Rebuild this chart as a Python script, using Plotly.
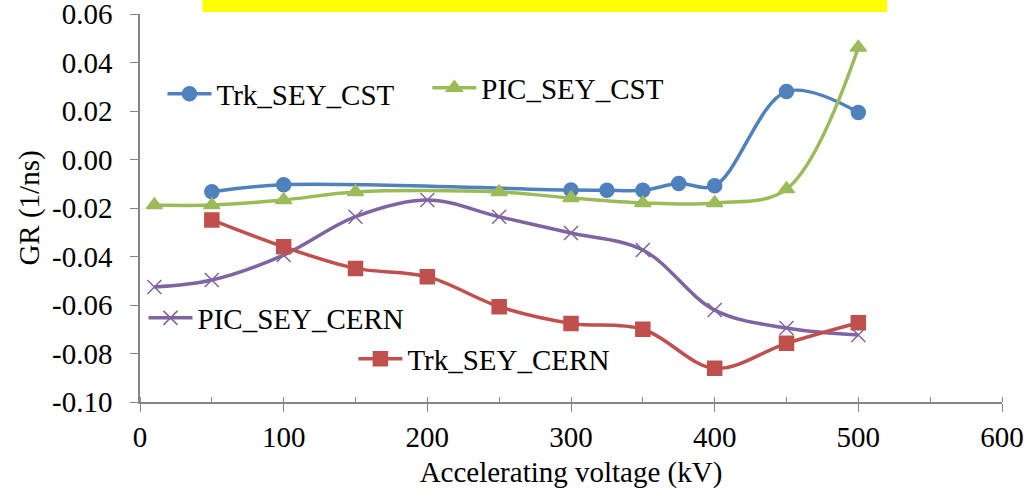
import plotly.graph_objects as go

# Data
x_trk_cst = [50, 100, 300, 325, 350, 375, 400, 450, 500]
y_trk_cst = [-0.0133, -0.0104, -0.0126, -0.0127, -0.0127, -0.0099, -0.0108, 0.0280, 0.0194]

x_pic_cst = [10, 50, 100, 150, 250, 300, 350, 400, 450, 500]
y_pic_cst = [-0.0188, -0.0188, -0.0167, -0.0134, -0.0134, -0.0159, -0.0179, -0.0179, -0.0122, 0.0462]

x_pic_cern = [10, 50, 100, 150, 200, 250, 300, 350, 400, 450, 500]
y_pic_cern = [-0.0526, -0.0497, -0.0394, -0.0236, -0.0167, -0.0236, -0.0303, -0.0373, -0.0621, -0.0695, -0.0724]

x_trk_cern = [50, 100, 150, 200, 250, 300, 350, 400, 450, 500]
y_trk_cern = [-0.0249, -0.0360, -0.0449, -0.0483, -0.0607, -0.0676, -0.0700, -0.0861, -0.0758, -0.0673]

y_tick_vals = [0.06, 0.04, 0.02, 0.00, -0.02, -0.04, -0.06, -0.08, -0.10]
y_tick_text = ["0.06", "0.04", "0.02", "0.00", "-0.02", "-0.04", "-0.06", "-0.08", "-0.10"]

FONT = "Liberation Serif, Times New Roman, Times, DejaVu Serif, serif"
FS = 29

fig = go.Figure()

def add(x, y, name, color, symbol, size, legend):
    fig.add_trace(go.Scatter(
        x=x, y=y, name=name, mode="lines+markers", showlegend=True,
        line=dict(color=color, width=3.5, shape="spline", smoothing=1),
        marker=dict(color=color, symbol=symbol, size=size,
                    line=dict(color=color, width=1.5)),
        legend=legend,
    ))

add(x_trk_cst, y_trk_cst, "Trk_SEY_CST", "#4F81BD", "circle", 14, "legend")
add(x_pic_cst, y_pic_cst, "PIC_SEY_CST", "#9BBB59", "triangle-up", 14, "legend2")
add(x_pic_cern, y_pic_cern, "PIC_SEY_CERN", "#8064A2", "x-thin", 14, "legend3")
add(x_trk_cern, y_trk_cern, "Trk_SEY_CERN", "#C0504D", "square", 14, "legend4")

L, R, T, B = 139.5, 1002, 14, 402
W, H = 1029, 501

def px_x(px):
    return (px - L) / (R - L)

def px_y(py):
    return (B - py) / (B - T)

leg_common = dict(font=dict(family=FONT, size=FS, color="black"), bgcolor="rgba(0,0,0,0)",
                  xanchor="left", yanchor="middle", itemwidth=44, borderwidth=0, visible=True)

fig.update_layout(
    width=W, height=H, showlegend=True,
    margin=dict(l=L, r=W - R, t=T, b=H - B, autoexpand=False),
    paper_bgcolor="white", plot_bgcolor="white",
    font=dict(family=FONT, size=FS, color="black"),
    legend=dict(x=px_x(162), y=px_y(94), **leg_common),
    legend2=dict(x=px_x(427), y=px_y(88), **leg_common),
    legend3=dict(x=px_x(143), y=px_y(318), **leg_common),
    legend4=dict(x=px_x(353), y=px_y(359), **leg_common),
    xaxis=dict(
        range=[0, 600], dtick=100, tick0=0, automargin=False,
        showline=True, linecolor="#868686", linewidth=1.5,
        ticks="outside", ticklen=8, tickcolor="#868686", tickwidth=1.2,
        minor=dict(dtick=50, ticks="inside", ticklen=5, tickcolor="#868686", showgrid=False),
        showgrid=False, zeroline=False,
        tickfont=dict(family=FONT, size=FS, color="black"),
        title=dict(text="Accelerating voltage (kV)", font=dict(family=FONT, size=FS, color="black"), standoff=10),
    ),
    yaxis=dict(
        range=[-0.10, 0.06], tickmode="array", tickvals=y_tick_vals, ticktext=y_tick_text,
        automargin=False,
        showline=True, linecolor="#868686", linewidth=1.5,
        ticks="outside", ticklen=8, tickcolor="#868686", tickwidth=1.2,
        ticklabelstandoff=12, ticklabeloverflow="allow",
        showgrid=False, zeroline=False,
        tickfont=dict(family=FONT, size=FS, color="black"),
        title=dict(text="GR (1/ns)", font=dict(family=FONT, size=FS, color="black"), standoff=4),
    ),
    shapes=[dict(type="rect", xref="paper", yref="paper",
                 x0=px_x(202), x1=px_x(887), y0=px_y(12), y1=px_y(-20),
                 fillcolor="#FFFF00", line=dict(width=0), layer="above")],
)

fig.write_html("out.html")
